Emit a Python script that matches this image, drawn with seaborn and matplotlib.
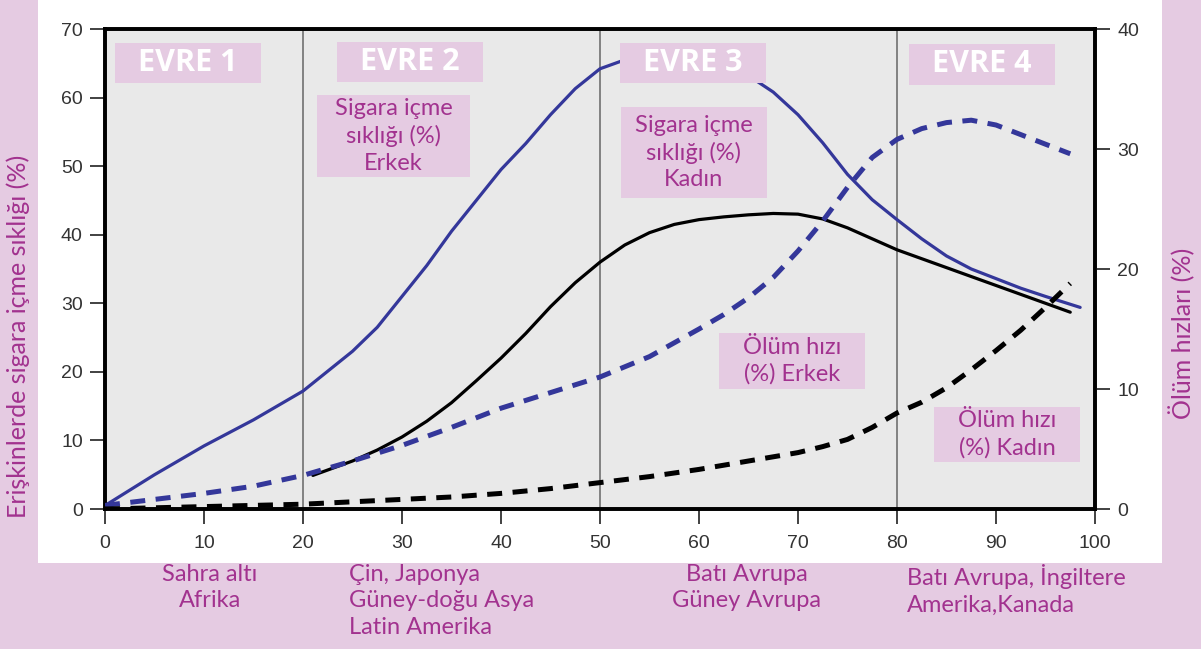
import numpy as np
import pandas as pd
import matplotlib
matplotlib.use("Agg")
import matplotlib.pyplot as plt
from matplotlib.patches import Rectangle
import seaborn as sns

# Sigara içme sıklığı (%) - sol eksen
erkek_sigara_x = [0, 5, 10, 15, 20, 25, 27.5, 30, 32.5, 35, 37.5, 40, 42.5, 45, 47.5, 50,
                  52.5, 55, 57.5, 60, 62.5, 65, 67.5, 70, 72.5, 75, 77.5, 80, 82.5, 85,
                  87.5, 90, 92.5, 95, 98.5]
erkek_sigara_y = [0.5, 5, 9.2, 13, 17.2, 23, 26.5, 31, 35.5, 40.5, 45, 49.5, 53.3, 57.5, 61.3, 64.2,
                  65.5, 66.2, 66.5, 66.2, 65, 63.2, 60.8, 57.5, 53.4, 48.8, 45.1, 42.2, 39.4, 36.9,
                  35, 33.6, 32.2, 31, 29.4]

kadin_sigara_x = [21, 25, 27.5, 30, 32.5, 35, 37.5, 40, 42.5, 45, 47.5, 50, 52.5, 55, 57.5,
                  60, 62.5, 65, 67.5, 70, 72.5, 75, 77.5, 80, 82.5, 85, 87.5, 90, 92.5, 95, 97.5]
kadin_sigara_y = [4.9, 7, 8.6, 10.5, 12.8, 15.5, 18.7, 22, 25.6, 29.5, 33, 36, 38.5, 40.3, 41.5,
                  42.2, 42.6, 42.9, 43.1, 43, 42.3, 41, 39.4, 37.8, 36.5, 35.2, 33.9, 32.6, 31.3, 30, 28.7]

# Ölüm hızları (%) - sağ eksen
erkek_olum_x = [0, 5, 10, 15, 20, 25, 30, 35, 40, 45, 50, 55, 60, 62.5, 65, 67.5, 70, 72.5,
                75, 77.5, 80, 82.5, 85, 87.5, 90, 92.5, 95, 97.5]
erkek_olum_y = [0.3, 0.8, 1.3, 1.9, 2.8, 4, 5.3, 6.8, 8.4, 9.7, 11, 12.7, 15, 16.2, 17.6, 19.3, 21.5, 24,
                26.8, 29.3, 30.8, 31.7, 32.2, 32.4, 32, 31.2, 30.4, 29.6]

kadin_olum_x = [0, 5, 10, 15, 20, 25, 30, 35, 40, 45, 50, 55, 60, 65, 70, 72.5, 75, 77.5,
                80, 82.5, 85, 87.5, 90, 92.5, 95, 97.5]
kadin_olum_y = [0, 0.1, 0.2, 0.3, 0.4, 0.6, 0.8, 1.0, 1.3, 1.7, 2.2, 2.7, 3.3, 4.0, 4.7, 5.2, 5.8, 6.8,
                8.0, 8.9, 10.1, 11.6, 13.2, 14.9, 16.8, 18.8]

x_ticks = list(range(0, 101, 10))
sol_ticks = list(range(0, 71, 10))
sag_ticks = list(range(0, 41, 10))

evre_labels = ["EVRE 1", "EVRE 2", "EVRE 3", "EVRE 4"]
evre_lines = [20, 50, 80]
bolge_labels = ["Sahra altı\nAfrika", "Çin, Japonya\nGüney-doğu Asya\nLatin Amerika",
                "Batı Avrupa\nGüney Avrupa", "Batı Avrupa, İngiltere\nAmerika,Kanada"]

PINK = "#e5cbe2"
MAGENTA = "#a2328f"
BLUE = "#34379a"
TICKFONT = ["Liberation Sans", "DejaVu Sans"]

sns.set_style("white")
plt.rcParams["font.family"] = ["Lato", "DejaVu Sans"]

W, H = 1201, 649
fig = plt.figure(figsize=(W / 100, H / 100), dpi=100, facecolor=PINK)


def fx(px):
    return px / W


def fy(py):
    return 1 - py / H


# white panel behind the chart
fig.patches.append(Rectangle((fx(38), fy(563)), fx(1162) - fx(38), fy(0) - fy(563),
                             transform=fig.transFigure, facecolor="white", edgecolor="none", zorder=-1))

ax = fig.add_axes([fx(105), fy(509), fx(1095) - fx(105), fy(29) - fy(509)])
ax.set_facecolor("#e9e9e9")
ax2 = ax.twinx()

for xv in evre_lines:
    ax.axvline(xv, color="#707070", lw=1.2, zorder=1)

sns.lineplot(x=erkek_sigara_x, y=erkek_sigara_y, ax=ax, color=BLUE, lw=2.3, zorder=3)
sns.lineplot(x=kadin_sigara_x, y=kadin_sigara_y, ax=ax, color="black", lw=2.3, zorder=3)
sns.lineplot(x=erkek_olum_x, y=erkek_olum_y, ax=ax2, color=BLUE, lw=3.6,
             linestyle=(0, (3, 2.1)), zorder=3)
sns.lineplot(x=kadin_olum_x, y=kadin_olum_y, ax=ax2, color="black", lw=3.6,
             linestyle=(0, (3, 2.1)), zorder=3)

ax.set_xlim(0, 100)
ax.set_ylim(0, 70)
ax2.set_ylim(0, 40)
ax.set_xticks(x_ticks, [str(v) for v in x_ticks], fontfamily=TICKFONT, fontsize=14, color="#333333")
ax.set_yticks(sol_ticks, [str(v) for v in sol_ticks], fontfamily=TICKFONT, fontsize=14, color="#333333")
ax2.set_yticks(sag_ticks, [str(v) for v in sag_ticks], fontfamily=TICKFONT, fontsize=14, color="#333333")

for a in (ax, ax2):
    for s in a.spines.values():
        s.set_linewidth(2.6)
        s.set_color("black")
    a.tick_params(axis="both", direction="out", length=11, width=1.3, color="#333333", pad=5)
ax.tick_params(axis="y", left=True, right=False)
ax.tick_params(axis="x", bottom=True, pad=8)
ax2.tick_params(axis="y", right=True, left=False)
ax.set_xlabel("")
ax.set_ylabel("")
ax2.set_ylabel("")

# axis titles
fig.text(fx(18), fy(336), "Erişkinlerde sigara içme sıklığı (%)", rotation=90,
         ha="center", va="center", color=MAGENTA, fontsize=18)
fig.text(fx(1182), fy(333), "Ölüm hızları (%)", rotation=90,
         ha="center", va="center", color=MAGENTA, fontsize=18)


def label_box(x0, y0, x1, y1, text, color, size, weight="normal"):
    fig.add_artist(Rectangle((fx(x0), fy(y1)), fx(x1) - fx(x0), fy(y0) - fy(y1),
                             transform=fig.transFigure, facecolor=PINK, edgecolor="none", zorder=5))
    fig.text(fx((x0 + x1) / 2), fy((y0 + y1) / 2), text, ha="center", va="center",
             color=color, fontsize=size, fontweight=weight, linespacing=1.32,
             multialignment="center", zorder=6,
             family=["Open Sans", "DejaVu Sans"] if weight == "bold" else ["Lato", "DejaVu Sans"])


evre_boxes = [(115, 43, 261, 83), (337, 42, 483, 82), (620, 43, 766, 83), (909, 44, 1055, 85)]
for (x0, y0, x1, y1), t in zip(evre_boxes, evre_labels):
    label_box(x0, y0, x1, y1, t, "white", 22, "bold")

label_box(317, 95, 470, 177, "Sigara içme\nsıklığı (%)\nErkek", MAGENTA, 17)
label_box(621, 107, 767, 198, "Sigara içme\nsıklığı (%)\nKadın", MAGENTA, 17)
label_box(719, 333, 865, 389, "Ölüm hızı\n(%) Erkek", MAGENTA, 17)
label_box(934, 407, 1080, 462, "Ölüm hızı\n(%) Kadın", MAGENTA, 17)

# region labels under the axis
bolge_pos = [(210, "center"), (349, "left"), (747, "center"), (907, "left")]
for (px, ha), t in zip(bolge_pos, bolge_labels):
    fig.text(fx(px), fy(564), t, ha=ha, va="top", color=MAGENTA, fontsize=17,
             linespacing=1.32, multialignment=ha)

fig.savefig("out.png", dpi=100, facecolor=PINK)
